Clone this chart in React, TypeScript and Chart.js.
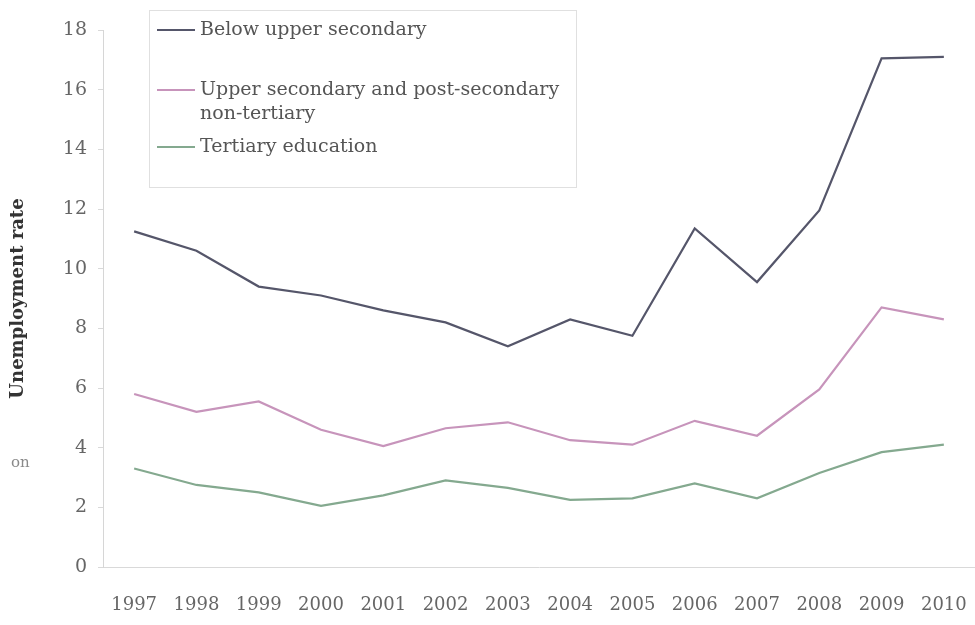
import React, { useEffect, useRef } from 'react';
import { Chart, registerables } from 'chart.js';

Chart.register(...registerables);

const years = ['1997', '1998', '1999', '2000', '2001', '2002', '2003', '2004', '2005', '2006', '2007', '2008', '2009', '2010'];
const belowUpperSecondary = [11.25, 10.6, 9.4, 9.1, 8.6, 8.2, 7.4, 8.3, 7.75, 11.35, 9.55, 11.95, 17.05, 17.1];
const upperSecondary = [5.8, 5.2, 5.55, 4.6, 4.05, 4.65, 4.85, 4.25, 4.1, 4.9, 4.4, 5.95, 8.7, 8.3];
const tertiary = [3.3, 2.75, 2.5, 2.05, 2.4, 2.9, 2.65, 2.25, 2.3, 2.8, 2.3, 3.15, 3.85, 4.1];
const seriesNames = ['Below upper secondary', 'Upper secondary and post-secondary non-tertiary', 'Tertiary education'];
const legendLines = [['Below upper secondary'], ['Upper secondary and post-secondary', 'non-tertiary'], ['Tertiary education']];
const yAxisTitle = 'Unemployment rate';
const strayText = 'on';

const FONT = '"DejaVu Serif", "Liberation Serif", serif';
const colors = ['#55566a', '#c794bb', '#84a98f'];

const legendPlugin = {
  id: 'boxLegend',
  afterDraw(chart: any) {
    const ctx = chart.ctx as CanvasRenderingContext2D;
    const entryY = [30, 90, 147];
    ctx.save();
    ctx.fillStyle = '#ffffff';
    ctx.fillRect(149.5, 10.5, 427, 177);
    ctx.strokeStyle = '#e0e0e0';
    ctx.lineWidth = 1;
    ctx.strokeRect(149.5, 10.5, 427, 177);
    ctx.font = `19px ${FONT}`;
    ctx.textBaseline = 'middle';
    ctx.textAlign = 'left';
    chart.data.datasets.forEach((ds: any, i: number) => {
      const y = entryY[i];
      ctx.strokeStyle = ds.borderColor;
      ctx.lineWidth = 2;
      ctx.beginPath();
      ctx.moveTo(157, y);
      ctx.lineTo(195, y);
      ctx.stroke();
      ctx.fillStyle = '#555555';
      legendLines[i].forEach((t, j) => ctx.fillText(t, 200, y + j * 24));
    });
    ctx.fillStyle = '#8a8a8a';
    ctx.font = `15px ${FONT}`;
    ctx.fillText(strayText, 11, 463);
    ctx.restore();
  },
};

export default function App() {
  const canvasRef = useRef<HTMLCanvasElement | null>(null);

  useEffect(() => {
    if (!canvasRef.current) return;
    const chart = new Chart(canvasRef.current, {
      type: 'line',
      data: {
        labels: years,
        datasets: [
          { label: seriesNames[0], data: belowUpperSecondary, borderColor: colors[0], backgroundColor: colors[0] },
          { label: seriesNames[1], data: upperSecondary, borderColor: colors[1], backgroundColor: colors[1] },
          { label: seriesNames[2], data: tertiary, borderColor: colors[2], backgroundColor: colors[2] },
        ].map((d) => ({ ...d, borderWidth: 2.2, pointRadius: 0, tension: 0, fill: false })),
      },
      options: {
        animation: false,
        responsive: true,
        maintainAspectRatio: false,
        layout: { padding: { top: 30, left: 0, right: 0, bottom: 0 } },
        plugins: {
          legend: { display: false },
          tooltip: { enabled: false },
        },
        scales: {
          x: {
            offset: true,
            grid: { display: true, drawOnChartArea: false, drawTicks: true, tickLength: 20, color: 'rgba(0,0,0,0)' },
            border: { display: true, color: '#d9d9d9', width: 1 },
            ticks: {
              font: { family: FONT, size: 18 },
              color: '#666666',
              padding: 8,
              maxRotation: 0,
              autoSkip: false,
            },
            afterFit: (scale: any) => {
              scale.height = 58;
            },
          },
          y: {
            min: 0,
            max: 18,
            grid: { display: true, drawOnChartArea: false, drawTicks: true, tickLength: 5, color: '#d9d9d9' },
            border: { display: true, color: '#d6d6d6', width: 1 },
            ticks: {
              stepSize: 2,
              font: { family: FONT, size: 19 },
              color: '#666666',
              padding: 11,
            },
            title: {
              display: true,
              text: yAxisTitle,
              font: { family: FONT, size: 18, weight: 'bold' },
              color: '#333333',
              padding: { top: 8, bottom: 0 },
            },
            afterFit: (scale: any) => {
              scale.width = 103;
            },
          },
        },
      },
      plugins: [legendPlugin],
    } as any);
    return () => chart.destroy();
  }, []);

  return (
    <div style={{ position: 'absolute', left: 0, top: 0, width: 975, height: 625, background: '#ffffff' }}>
      <canvas ref={canvasRef} />
    </div>
  );
}
